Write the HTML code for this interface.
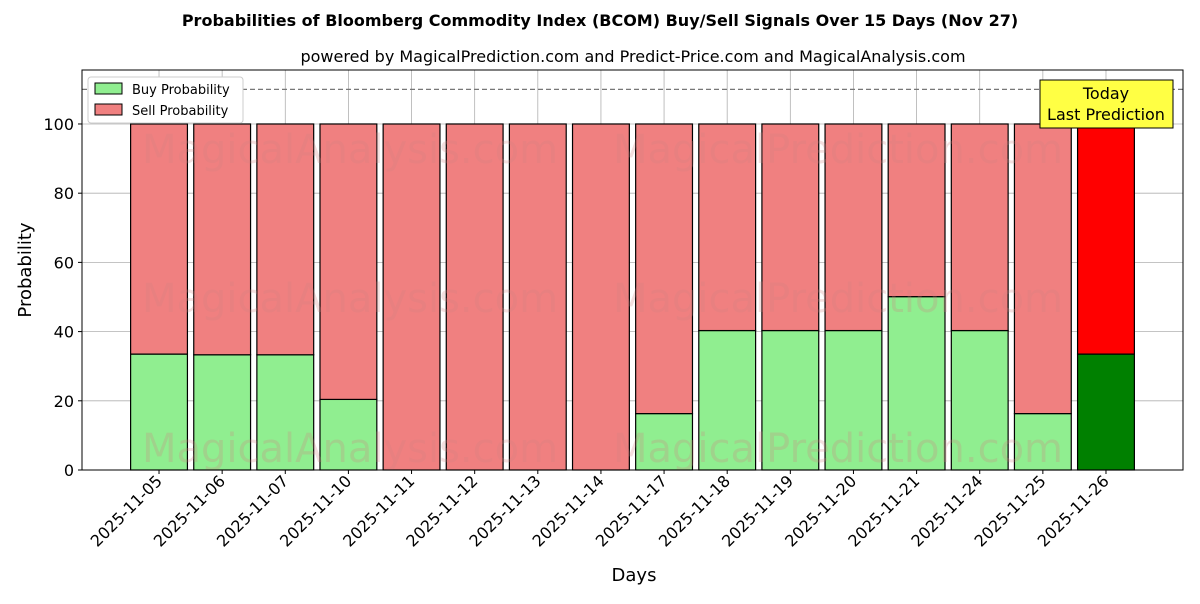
<!DOCTYPE html>
<html><head><meta charset="utf-8"><style>
body{margin:0;background:#fff;font-family:"DejaVu Sans","Liberation Sans",sans-serif}
</style></head><body>
<svg id="chart" width="1200" height="600" xmlns="http://www.w3.org/2000/svg">
<text x="600" y="26" text-anchor="middle" font-size="16" font-weight="bold">Probabilities of Bloomberg Commodity Index (BCOM) Buy/Sell Signals Over 15 Days (Nov 27)</text>
<text x="633" y="62" text-anchor="middle" font-size="16">powered by MagicalPrediction.com and Predict-Price.com and MagicalAnalysis.com</text>
<g id="grid"></g>
<g id="bars"></g>
<g id="wm" fill="#d08080" fill-opacity="0.25" font-size="40">
<text x="350" y="163" text-anchor="middle">MagicalAnalysis.com</text>
<text x="838" y="163" text-anchor="middle">MagicalPrediction.com</text>
<text x="350" y="312" text-anchor="middle">MagicalAnalysis.com</text>
<text x="838" y="312" text-anchor="middle">MagicalPrediction.com</text>
<text x="350" y="462" text-anchor="middle">MagicalAnalysis.com</text>
<text x="838" y="462" text-anchor="middle">MagicalPrediction.com</text>
</g>
<line x1="82" x2="1183" y1="89.4" y2="89.4" stroke="#777" stroke-dasharray="5,3" stroke-width="1.2"/>
<rect x="82" y="70" width="1101" height="400" fill="none" stroke="#000" stroke-width="1"/>
<g id="axes" font-size="16"></g>
<text x="634" y="581" text-anchor="middle" font-size="18">Days</text>
<text transform="translate(31,270) rotate(-90)" text-anchor="middle" font-size="18">Probability</text>
<g>
<rect x="88" y="77" width="155" height="46" fill="#fff" stroke="#ccc" rx="3"/>
<rect x="95" y="83" width="27" height="11" fill="lightgreen" stroke="#000"/>
<text x="132" y="94" font-size="13">Buy Probability</text>
<rect x="95" y="104" width="27" height="11" fill="lightcoral" stroke="#000"/>
<text x="132" y="115" font-size="13">Sell Probability</text>
</g>
<g>
<rect x="1040" y="80" width="133" height="48" fill="#ffff44" stroke="#000"/>
<text x="1106" y="99" text-anchor="middle" font-size="16">Today</text>
<text x="1106" y="120" text-anchor="middle" font-size="16">Last Prediction</text>
</g>
</svg>
<script>
const categories=["2025-11-05","2025-11-06","2025-11-07","2025-11-10","2025-11-11","2025-11-12","2025-11-13","2025-11-14","2025-11-17","2025-11-18","2025-11-19","2025-11-20","2025-11-21","2025-11-24","2025-11-25","2025-11-26"];
const buyValues=[33.5,33.3,33.3,20.4,0,0,0,0,16.3,40.3,40.3,40.3,50.1,40.3,16.3,33.5];
const sellValues=[66.5,66.7,66.7,79.6,100,100,100,100,83.7,59.7,59.7,59.7,49.9,59.7,83.7,66.5];
const yTicks=[0,20,40,60,80,100];
const NS="http://www.w3.org/2000/svg";
const X0=82,X1=1183,Y0=470,Y1=70,xmin=-1.22,xmax=16.22,ymin=0,ymax=115.6;
const xs=i=>X0+(i-xmin)/(xmax-xmin)*(X1-X0);
const ys=v=>Y0-(v-ymin)/(ymax-ymin)*(Y0-Y1);
function mk(t,a,p){const e=document.createElementNS(NS,t);for(const k in a)e.setAttribute(k,a[k]);p.appendChild(e);return e;}
const grid=document.getElementById('grid'),bars=document.getElementById('bars'),axes=document.getElementById('axes');
yTicks.forEach(v=>{
 const l=mk('line',{x1:X0,x2:X1,y1:ys(v),y2:ys(v),stroke:'#b0b0b0','stroke-width':0.8},grid);
 
 
 mk('line',{x1:X0-4,x2:X0,y1:ys(v),y2:ys(v),stroke:'#000'},axes);
 const t=mk('text',{x:X0-8,y:ys(v)+6,'text-anchor':'end'},axes);t.textContent=v;
 
 
});
const bw=0.9*(xs(1)-xs(0));
categories.forEach((c,i)=>{
 const x=xs(i);
 const g=mk('line',{x1:x,x2:x,y1:Y1,y2:Y0,stroke:'#b0b0b0','stroke-width':0.8},grid);
 
 
 const last=i===categories.length-1;
 const b=mk('rect',{x:x-bw/2,y:ys(buyValues[i]),width:bw,height:ys(0)-ys(buyValues[i]),fill:last?'green':'lightgreen',stroke:'#000','stroke-width':1.2},bars);
 
 
 const s=mk('rect',{x:x-bw/2,y:ys(buyValues[i]+sellValues[i]),width:bw,height:ys(buyValues[i])-ys(buyValues[i]+sellValues[i]),fill:last?'red':'lightcoral',stroke:'#000','stroke-width':1.2},bars);
 
 
 mk('line',{x1:x,x2:x,y1:Y0,y2:Y0+4,stroke:'#000'},axes);
 const t=mk('text',{x:x+4,y:Y0+12,'text-anchor':'end',transform:`rotate(-45 ${x+4} ${Y0+12})`},axes);t.textContent=c;
 
 
});
</script>
</body></html>
